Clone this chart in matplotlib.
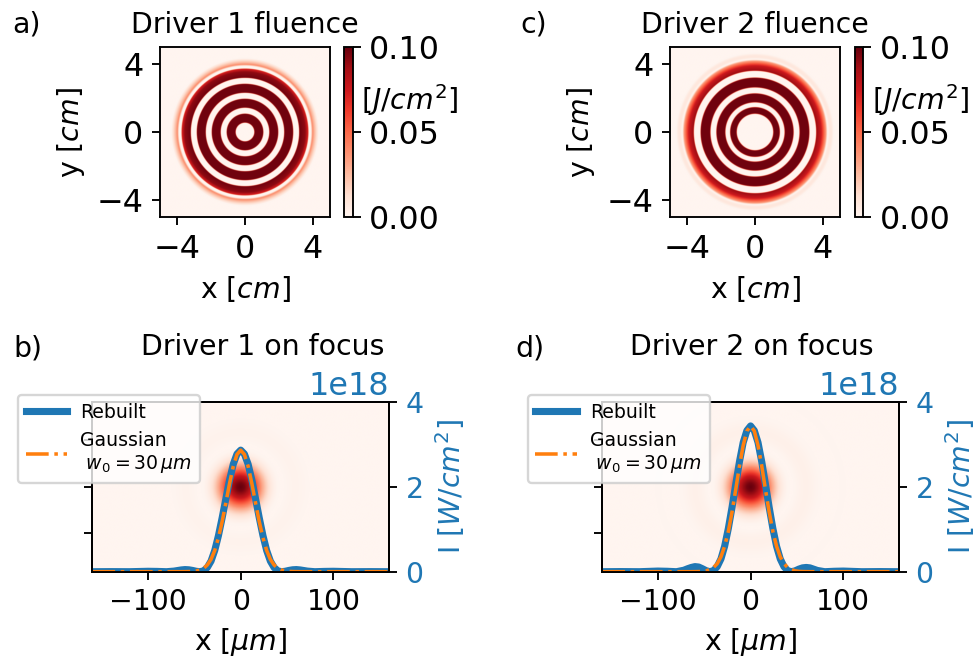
import numpy as np
import matplotlib
matplotlib.use('Agg')
import matplotlib.pyplot as plt

# ---------------- data ----------------
# Radial fluence profiles of the two drivers (r in cm, fluence in J/cm^2)
r1_cm = [0.0, 0.53, 0.57, 1.06, 1.10, 1.41, 1.45, 1.94, 1.98, 2.29, 2.33, 2.82, 2.86, 3.17, 3.21,
         3.55, 3.72, 3.76, 3.88, 3.98, 4.10, 4.35, 7.2]
f1_J = [0.0, 0.0, 0.098, 0.098, 0.0, 0.0, 0.098, 0.098, 0.0, 0.0, 0.098, 0.098, 0.0, 0.0, 0.098,
        0.092, 0.070, 0.0, 0.0, 0.040, 0.025, 0.0, 0.0]
r2_cm = [0.0, 1.05, 1.10, 1.44, 1.49, 1.72, 1.77, 2.25, 2.30, 2.60, 2.65, 3.18, 3.23, 3.58, 3.63,
         3.90, 4.18, 4.28, 4.40, 4.50, 4.65, 7.2]
f2_J = [0.0, 0.0, 0.098, 0.098, 0.0, 0.0, 0.098, 0.098, 0.0, 0.0, 0.098, 0.098, 0.0, 0.0, 0.090,
        0.075, 0.035, 0.0, 0.008, 0.008, 0.0, 0.0]

# Focal-plane line-outs (x in um, intensity in 1e18 W/cm^2)
x_um = [-160, -140, -120, -100, -90, -80, -72, -68, -64, -60, -56, -52, -48, -44, -40, -36, -32,
        -28, -24, -20, -16, -12, -8, -4, 0, 4, 8, 12, 16, 20, 24, 28, 32, 36, 40, 44, 48, 52,
        56, 60, 64, 68, 72, 80, 90, 100, 120, 140, 160]
rebuilt1 = [0.0, 0.002, 0.0, 0.01, 0.007, 0.0, 0.014, 0.028, 0.042, 0.05, 0.045, 0.03, 0.01, 0.0,
            0.02, 0.10, 0.25, 0.50, 0.85, 1.27, 1.72, 2.16, 2.53, 2.77, 2.86, 2.77, 2.53, 2.16,
            1.72, 1.27, 0.85, 0.50, 0.25, 0.10, 0.02, 0.0, 0.01, 0.03, 0.045, 0.05, 0.042, 0.028,
            0.014, 0.0, 0.007, 0.01, 0.0, 0.002, 0.0]
gauss1 = [0, 0, 0, 0, 0, 0, 0, 0, 0, 0.001, 0.003, 0.007, 0.017, 0.04, 0.08, 0.16, 0.29, 0.50,
          0.80, 1.18, 1.62, 2.08, 2.48, 2.76, 2.86, 2.76, 2.48, 2.08, 1.62, 1.18, 0.80, 0.50,
          0.29, 0.16, 0.08, 0.04, 0.017, 0.007, 0.003, 0.001, 0, 0, 0, 0, 0, 0, 0, 0, 0]
rebuilt2 = [0.0, 0.003, 0.0, 0.015, 0.01, 0.0, 0.035, 0.07, 0.10, 0.12, 0.11, 0.07, 0.025, 0.0,
            0.025, 0.12, 0.30, 0.60, 1.02, 1.52, 2.06, 2.59, 3.04, 3.32, 3.43, 3.32, 3.04, 2.59,
            2.06, 1.52, 1.02, 0.60, 0.30, 0.12, 0.025, 0.0, 0.02, 0.06, 0.09, 0.10, 0.09, 0.06,
            0.03, 0.0, 0.01, 0.015, 0.0, 0.003, 0.0]
gauss2 = [0, 0, 0, 0, 0, 0, 0, 0, 0, 0.001, 0.003, 0.008, 0.02, 0.05, 0.10, 0.19, 0.35, 0.60,
          0.95, 1.41, 1.94, 2.49, 2.97, 3.31, 3.43, 3.31, 2.97, 2.49, 1.94, 1.41, 0.95, 0.60,
          0.35, 0.19, 0.10, 0.05, 0.02, 0.008, 0.003, 0.001, 0, 0, 0, 0, 0, 0, 0, 0, 0]

fluence_titles = ['Driver 1 fluence', 'Driver 2 fluence']
focus_titles = ['Driver 1 on focus', 'Driver 2 on focus']
panel_letters = ['a)', 'b)', 'c)', 'd)']
cbar_ticks = [0.0, 0.05, 0.10]
xy_ticks_cm = [-4, 0, 4]
x_ticks_um = [-100, 0, 100]
I_ticks = [0, 2, 4]

# ---------------- figure ----------------
W, H = 978, 658
DPI = 170
fig = plt.figure(figsize=(W / DPI, H / DPI), dpi=DPI)


def px(l, t, w, h):
    return [l / W, 1 - (t + h) / H, w / W, h / H]


FS = 12
FS_TOP_TICK = 13.5

# top panels: fluence maps
grid = np.linspace(-5, 5, 600)
GX, GY = np.meshgrid(grid, grid)
RR = np.sqrt(GX ** 2 + GY ** 2)
for i, (r_prof, f_prof, left, cleft, title, tx) in enumerate([
        (r1_cm, f1_J, 160, 344.3, fluence_titles[0], 245),
        (r2_cm, f2_J, 670, 855, fluence_titles[1], 755)]):
    ax = fig.add_axes(px(left, 47.3, 170, 170))
    img = np.interp(RR, r_prof, f_prof)
    im = ax.imshow(img, extent=[-5, 5, -5, 5], origin='lower', cmap='Reds', vmin=0, vmax=0.1,
                   aspect='auto', interpolation='bilinear')
    ax.set_xticks(xy_ticks_cm)
    ax.set_yticks(xy_ticks_cm)
    ax.tick_params(labelsize=FS_TOP_TICK)
    ax.set_xlabel('x [$cm$]', fontsize=FS)
    ax.set_ylabel('y [$cm$]', fontsize=FS)
    cax = fig.add_axes(px(cleft, 47.3, 8.2, 170))
    cb = fig.colorbar(im, cax=cax, ticks=cbar_ticks, format='%.2f')
    cb.ax.tick_params(labelsize=FS_TOP_TICK)
    fig.text((cleft + 16.5) / W, 1 - 100 / H, '[$J/cm^2$]', fontsize=FS, ha='left', va='center')
    fig.text(tx / W, 1 - 33.3 / H, title, fontsize=FS, ha='center', va='baseline')

fig.text(12 / W, 1 - 32.5 / H, panel_letters[0], fontsize=FS, ha='left', va='baseline')
fig.text(520 / W, 1 - 32.5 / H, panel_letters[2], fontsize=FS, ha='left', va='baseline')
fig.text(13 / W, 1 - 357 / H, panel_letters[1], fontsize=FS, ha='left', va='baseline')
fig.text(515 / W, 1 - 357 / H, panel_letters[3], fontsize=FS, ha='left', va='baseline')

# bottom panels: focal spots
xg = np.linspace(-160, 160, 500)
FX, FY = np.meshgrid(xg, xg)
FR = np.sqrt(FX ** 2 + FY ** 2)
x_arr = np.array(x_um, dtype=float)
for rebuilt, gauss, left, title, tx in [
        (rebuilt1, gauss1, 92.4, focus_titles[0], 262.5),
        (rebuilt2, gauss2, 602.3, focus_titles[1], 751.7)]:
    reb = np.array(rebuilt, dtype=float)
    gau = np.array(gauss, dtype=float)
    pos = x_arr >= 0
    ax = fig.add_axes(px(left, 401.7, 296.6, 170))
    spot = np.interp(FR, x_arr[pos], reb[pos])
    ax.imshow(spot, extent=[-160, 160, -160, 160], origin='lower', cmap='Reds',
              vmin=0, vmax=reb.max(), aspect='auto', interpolation='bilinear')
    ax.set_xlim(-160, 160)
    ax.set_ylim(-91.5, 91.5)
    ax.set_yticks([-50, 0, 50])
    ax.set_yticklabels([])
    ax.set_xticks(x_ticks_um)
    ax.tick_params(labelsize=FS)
    ax.set_xlabel('x [$\\mu m$]', fontsize=FS)
    ax2 = ax.twinx()
    ax2.plot(x_arr, reb * 1e18, color='C0', lw=3, label='Rebuilt')
    ax2.plot(x_arr, gau * 1e18, color='C1', ls='-.', lw=1.5, label='Gaussian\n $w_0=30\\,\\mu m$')
    ax2.set_ylim(0, 4e18)
    ax2.set_yticks([t * 1e18 for t in I_ticks])
    ax2.tick_params(axis='y', labelcolor='C0', labelsize=FS)
    ax2.set_ylabel('I [$W/cm^2$]', color='C0', fontsize=FS)
    ot = ax2.yaxis.get_offset_text()
    ot.set_fontsize(13.5)
    ot.set_color('C0')
    ax2.legend(loc='upper left', bbox_to_anchor=((left - 74.4) / W, 1 - 395 / H),
               bbox_transform=fig.transFigure, borderaxespad=0, fontsize=8,
               handlelength=2.2, handletextpad=0.7)
    fig.text(tx / W, 1 - 355 / H, title, fontsize=FS, ha='center', va='baseline')

fig.savefig('out.png', dpi=DPI)
